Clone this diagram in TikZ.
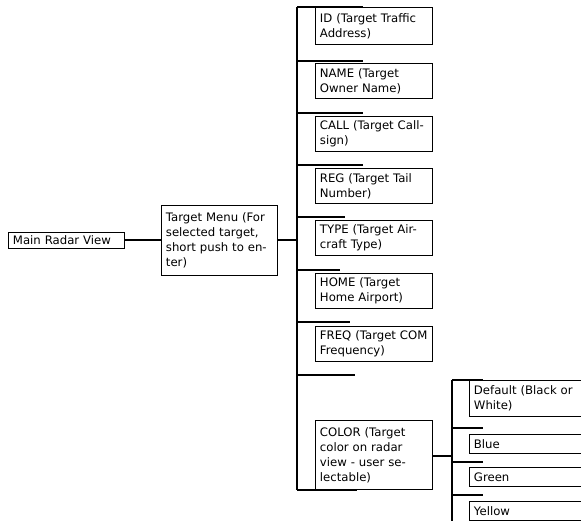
\documentclass[tikz,border=0pt]{standalone}
\usepackage{fontspec}
\setmainfont{DejaVu Sans}
\begin{document}
\begin{tikzpicture}[x=1pt,y=-1pt,
  box/.style={draw, line width=0.9pt, anchor=north west, align=left,
    inner xsep=4pt, inner ysep=0pt, text width=108pt, minimum width=117pt,
    font=\fontsize{11.7}{15}\selectfont},
  conn/.style={line width=1.8pt},
  tab/.style={line width=1.4pt}]
\useasboundingbox (0,0) rectangle (581,521);
% left part
\node[box, text width=107pt, minimum width=116pt, minimum height=16pt] (main) at (8,232) {Main Radar View};
\node[box, minimum width=116pt, text width=107pt, minimum height=70pt] (tm) at (161,205)
  {Target Menu (For\\selected target,\\short push to en-\\ter)};
% bus
\coordinate (bt) at (297,7);
\coordinate (bb) at (297,490);
\coordinate (bm) at (297,240);
\draw[conn] (bt) -- (bb);
\draw[conn] (main.east |- bm) -- (tm.west |- bm);
\draw[conn] (tm.east |- bm) -- (bm);
% children
\node[box, minimum height=37pt] (id) at (315,7) {ID (Target Traffic\\Address)};
\node[box, minimum height=35pt] (name) at (315,63) {NAME (Target\\Owner Name)};
\node[box, minimum height=35pt] (call) at (315,116) {CALL (Target Call-\\sign)};
\node[box, minimum height=35pt] (reg) at (315,168) {REG (Target Tail\\Number)};
\node[box, minimum height=35pt] (type) at (315,220) {TYPE (Target Air-\\craft Type)};
\node[box, minimum height=35pt] (home) at (315,273) {HOME (Target\\Home Airport)};
\node[box, minimum height=35pt] (freq) at (315,326) {FREQ (Target COM\\Frequency)};
\node[box, minimum height=69pt] (color) at (315,420)
  {COLOR (Target\\color on radar\\view - user se-\\lectable)};
% tabs from bus
\foreach \y/\e in {7/363, 61/363, 113/363, 165/363, 217/345, 270/340, 322/350, 375/355, 490/357}{
  \coordinate (ts\y) at (297,\y);
  \coordinate (te\y) at (\e,\y);
  \draw[tab] (ts\y) -- (te\y);
}
% sub tree
\coordinate (st) at (452,380);
\coordinate (sb) at (452,530);
\coordinate (sm) at (452,456);
\draw[conn] (st) -- (sb);
\draw[conn] (color.east |- sm) -- (sm);
\node[box, minimum height=36pt, text width=140pt, minimum width=149pt] (def) at (469,380) {Default (Black or\\White)};
\node[box, minimum height=19pt, text width=140pt, minimum width=149pt] (blue) at (469,434) {Blue};
\node[box, minimum height=19pt, text width=140pt, minimum width=149pt] (green) at (469,467) {Green};
\node[box, minimum height=19pt, text width=140pt, minimum width=149pt] (yellow) at (469,501) {Yellow};
\foreach \y/\e in {380/483, 428/483, 462/483, 495/483}{
  \coordinate (ss\y) at (452,\y);
  \coordinate (se\y) at (\e,\y);
  \draw[tab] (ss\y) -- (se\y);
}
\end{tikzpicture}
\end{document}
